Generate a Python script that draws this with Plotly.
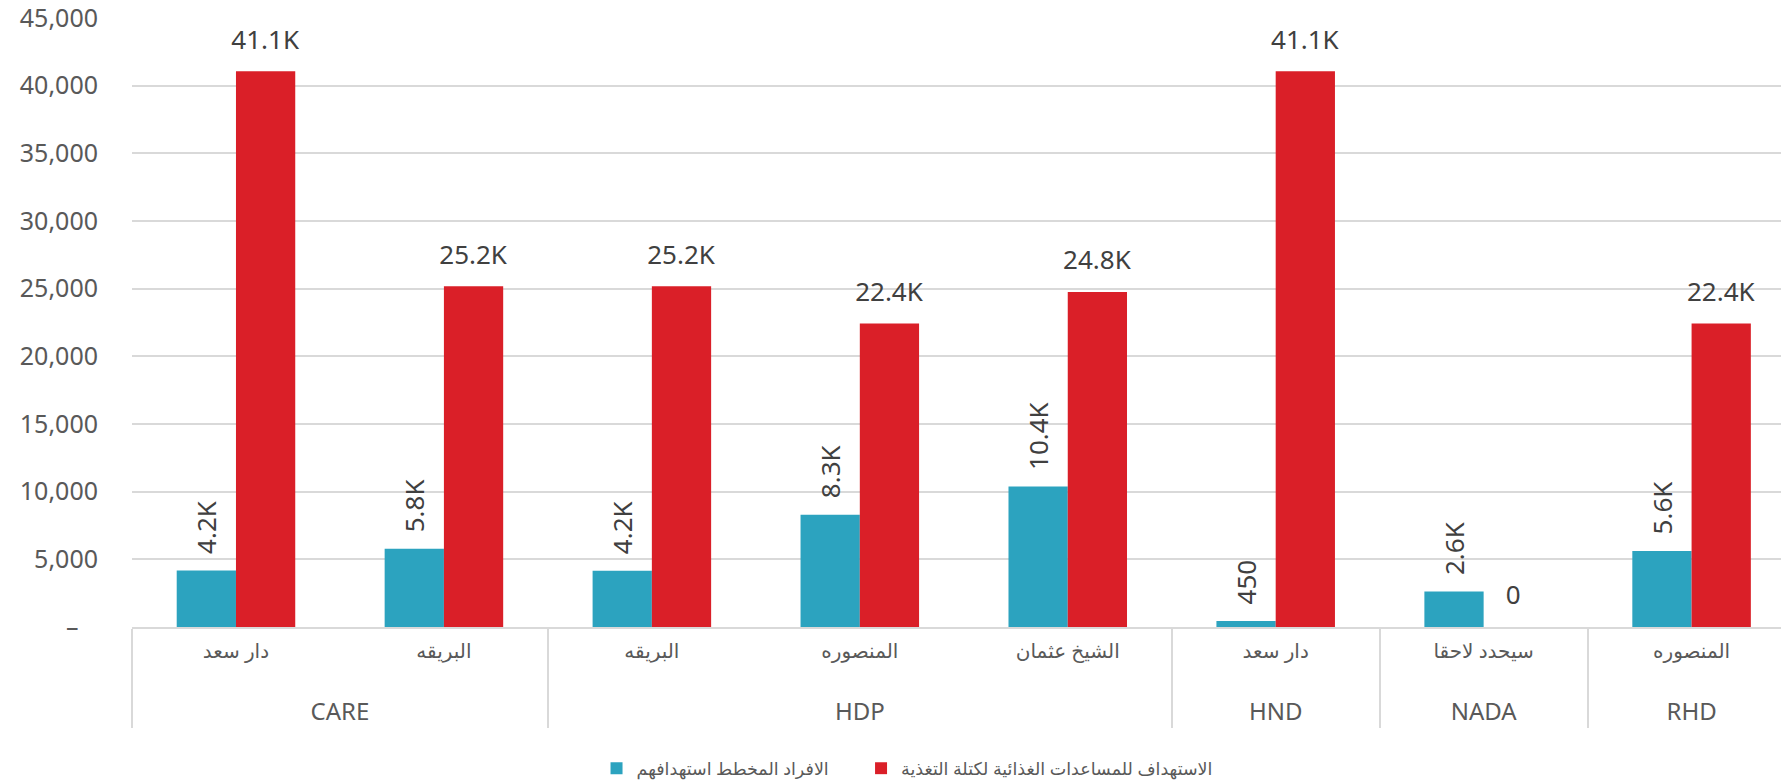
import plotly.graph_objects as go

# organisation (group) and area (sub-category) for each bar pair
orgs = ["CARE", "CARE", "HDP", "HDP", "HDP", "HND", "NADA", "RHD"]
areas = ["دار سعد", "البريقه", "البريقه", "المنصوره", "الشيخ عثمان", "دار سعد", "سيحدد لاحقا", "المنصوره"]

planned = [4180, 5780, 4160, 8300, 10380, 450, 2620, 5620]
targeted = [41060, 25180, 25180, 22420, 24760, 41060, 0, 22420]

name_planned = "الافراد المخطط استهدافهم"
name_targeted = "الاستهداف للمساعدات الغذائية لكتلة التغذية"

y_ticks = [0, 5000, 10000, 15000, 20000, 25000, 30000, 35000, 40000, 45000]


def short(v):
    # 4180 -> 4.2K, 450 -> 450
    if v >= 1000:
        return f"{v / 1000:.1f}K"
    return str(v)


BLUE = "#2CA3BF"
RED = "#DA1F28"
GRID = "#D9D9D9"
TXT = "#595959"
LBL = "#404040"
FONT = "Noto Sans, DejaVu Sans, sans-serif"
NB = "\u00a0"

# axis font is large (sets the line gap), the visible labels are sized by spans
area_labels = [f"<span style='font-size:20px;baseline-shift:3px'>{a}</span>" for a in areas]
org_labels = [f"<br><span style='font-size:24px;baseline-shift:6px'>{o}</span>" for o in orgs]

# red labels: a small empty second line lifts the value off the bar
red_text = [f"<span style='font-size:26px'>{short(v)}</span><br>{NB}" for v in targeted]

fig = go.Figure()
fig.add_trace(go.Bar(
    x=[org_labels, area_labels], y=planned, name=name_planned + NB * 6,
    marker=dict(color=BLUE, line=dict(width=0)),
    # leading spaces keep the rotated label off the bar top
    text=[NB * 2 + short(v) for v in planned],
    textposition="outside", textangle=-90, constraintext="none",
    textfont=dict(family=FONT, size=26, color=LBL),
    cliponaxis=False,
))
fig.add_trace(go.Bar(
    x=[org_labels, area_labels], y=targeted, name=name_targeted,
    marker=dict(color=RED, line=dict(width=0)),
    text=red_text, textposition="outside", textangle=0, constraintext="none",
    textfont=dict(family=FONT, size=12, color=LBL),
    cliponaxis=False,
))

fig.update_layout(
    width=1781, height=780,
    margin=dict(l=132, r=0, t=18, b=153, autoexpand=False),
    plot_bgcolor="white", paper_bgcolor="white",
    barmode="group", bargap=0.43, bargroupgap=0,
    font=dict(family=FONT, color=TXT),
    legend=dict(
        orientation="h", x=0.47, xanchor="center", y=-0.232, yanchor="middle",
        font=dict(family=FONT, size=17.5, color=TXT),
    ),
)

fig.update_yaxes(
    range=[0, 45000],
    tickvals=y_ticks,
    ticktext=["–" + NB * 3 if v == 0 else f"{v:,}" for v in y_ticks],
    tickfont=dict(size=25, color=TXT),
    gridcolor=GRID, gridwidth=1.5,
    zeroline=False, showline=False,
    ticklabelstandoff=33, ticklabeloverflow="allow",
    automargin=False,
)

fig.update_xaxes(
    type="multicategory",
    range=[-0.5, 7.43],
    tickfont=dict(size=27, color=TXT),
    showline=True, linecolor=GRID, linewidth=2,
    showdividers=True, dividercolor=GRID, dividerwidth=2,
    ticks="",
    showgrid=False,
    automargin=False,
)

# no page margin, so the figure fills the window exactly
fig.write_html("out.html", config={"displayModeBar": False},
               post_script="document.body.style.margin='0';")
